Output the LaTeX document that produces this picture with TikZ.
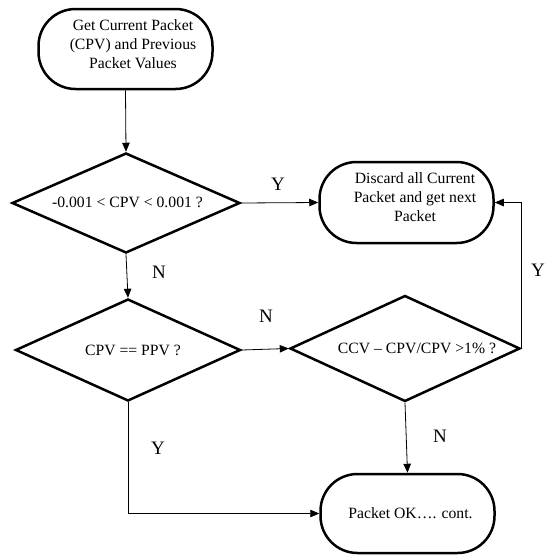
\documentclass[tikz,border=0pt]{standalone}
\usepackage{fontspec}
\setmainfont{Liberation Serif}
\usetikzlibrary{shapes.geometric,arrows.meta}

\begin{document}
\begin{tikzpicture}[x=1pt,y=-1pt,
  terminal/.style={draw, line width=2.5pt, rounded corners=37pt,
    minimum width=174pt, minimum height=80pt, inner sep=0pt},
  decision/.style={draw, diamond, line width=2.5pt, inner sep=0pt},
  txt/.style={font=\fontsize{15.7}{18.8}\selectfont, align=center, inner sep=0pt},
  lbl/.style={font=\fontsize{19}{22}\selectfont, inner sep=0pt},
  conn/.style={line width=0.8pt, -{Triangle[length=9pt,width=7.5pt]}}]
  \useasboundingbox (0,0) rectangle (547,555);

  % terminals
  \node[terminal] (start) at (125.5,49) {};
  \node[txt] (startt) at (133,44) {Get Current Packet\\(CPV) and Previous\\Packet Values};

  \node[terminal, minimum height=81pt] (disc) at (406.5,202.5) {};
  \node[txt] (disct) at (415,197) {Discard all Current\\Packet and get next\\Packet};

  \node[terminal, minimum height=79pt] (ok) at (407.5,513.5) {};
  \node[txt] (okt) at (410.5,513) {Packet OK\dots. cont.};

  % decisions
  \node[decision, minimum width=228pt, minimum height=100pt] (d1) at (126,203) {};
  \node[txt] (d1t) at (127.5,202) {-0.001 < CPV < 0.001 ?};

  \node[decision, minimum width=225pt, minimum height=102pt] (d2) at (128,350) {};
  \node[txt] (d2t) at (133,350) {CPV == PPV ?};

  \node[decision, minimum width=230pt, minimum height=106pt] (d3) at (405,348.5) {};
  \node[txt] (d3t) at (417,348) {CCV – CPV/CPV >1\% ?};

  % connectors
  \draw[conn] (start.south) -- (d1.north);
  \draw[conn] (d1.east) -- (disc.west);
  \draw[conn] (d1.south) -- (d2.north);
  \draw[conn] (d2.east) -- (d3.west);
  \draw[conn] (d3.south) -- (ok.north);
  \draw[conn] (d3.east) |- (disc.east);
  \draw[conn] (d2.south) |- (ok.west);

  % branch labels
  \node[lbl] (y1) at (278,184) {Y};
  \node[lbl] (n1) at (159,272) {N};
  \node[lbl] (n2) at (266,316) {N};
  \node[lbl] (y3) at (538,270) {Y};
  \node[lbl] (y2) at (158,448) {Y};
  \node[lbl] (n3) at (440,436) {N};
\end{tikzpicture}
\end{document}
